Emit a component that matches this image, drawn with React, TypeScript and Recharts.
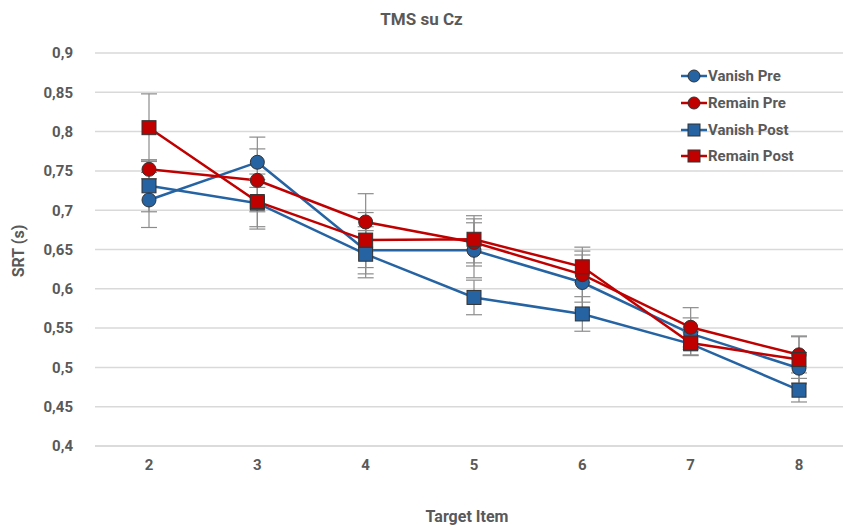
import React from 'react';
import { LineChart, Line, XAxis, YAxis, CartesianGrid, ErrorBar } from 'recharts';

const categories = ['2', '3', '4', '5', '6', '7', '8'];
const vanishPre = [0.713, 0.761, 0.649, 0.649, 0.608, 0.543, 0.499];
const remainPre = [0.752, 0.738, 0.685, 0.659, 0.618, 0.551, 0.516];
const vanishPost = [0.731, 0.709, 0.644, 0.589, 0.568, 0.53, 0.471];
const remainPost = [0.805, 0.711, 0.662, 0.663, 0.628, 0.531, 0.51];
const vanishPreErr = [0.035, 0.032, 0.03, 0.035, 0.035, 0.02, 0.02];
const remainPreErr = [0.012, 0.04, 0.036, 0.03, 0.035, 0.025, 0.023];
const vanishPostErr = [0.033, 0.03, 0.03, 0.022, 0.022, 0.015, 0.015];
const remainPostErr = [0.043, 0.035, 0.035, 0.03, 0.02, 0.015, 0.03];
const yTicks = [0.4, 0.45, 0.5, 0.55, 0.6, 0.65, 0.7, 0.75, 0.8, 0.85, 0.9];

const BLUE = '#2563A3';
const RED = '#C00000';
const TEXT = '#595959';
const FONT = 'Roboto, "Noto Sans", sans-serif';

const data = categories.map((c, i) => ({
  cat: c,
  vp: vanishPre[i],
  rp: remainPre[i],
  vq: vanishPost[i],
  rq: remainPost[i],
  vpE: vanishPreErr[i],
  rpE: remainPreErr[i],
  vqE: vanishPostErr[i],
  rqE: remainPostErr[i],
}));

const series = [
  { key: 'vp', err: 'vpE', name: 'Vanish Pre', color: BLUE, shape: 'circle' },
  { key: 'rp', err: 'rpE', name: 'Remain Pre', color: RED, shape: 'circle' },
  { key: 'vq', err: 'vqE', name: 'Vanish Post', color: BLUE, shape: 'square' },
  { key: 'rq', err: 'rqE', name: 'Remain Post', color: RED, shape: 'square' },
];

const makeDot = (shape: string, color: string) => (p: any) => {
  const { cx, cy, index } = p;
  if (cx == null || cy == null) return <g key={`d${index}`} />;
  if (shape === 'square') {
    return (
      <rect key={`d${index}`} x={cx - 7} y={cy - 7} width={14} height={14} fill={color} stroke="#333" strokeWidth={1} />
    );
  }
  return <circle key={`d${index}`} cx={cx} cy={cy} r={7} fill={color} stroke="#333" strokeWidth={1} />;
};

const fmt = (v: number) => String(Math.round(v * 100) / 100).replace('.', ',');

export default function App() {
  return (
    <div
      style={{
        position: 'absolute',
        left: 0,
        top: 0,
        width: 843,
        height: 528,
        overflow: 'hidden',
        background: '#fff',
        fontFamily: FONT,
      }}
    >
      <LineChart width={853} height={528} data={data} margin={{ top: 53, right: 0, bottom: 0, left: 0 }}>
        <CartesianGrid vertical={false} stroke="#d9d9d9" strokeWidth={1.5} />
        <XAxis
          dataKey="cat"
          height={82}
          padding={{ left: 54, right: 54 }}
          tickLine={false}
          axisLine={{ stroke: '#d9d9d9', strokeWidth: 1.5 }}
          tickSize={6}
          tickMargin={7}
          tick={{ fill: TEXT, fontSize: 15, fontWeight: 700, fontFamily: FONT }}
        />
        <YAxis
          width={95}
          domain={[0.4, 0.9]}
          ticks={yTicks}
          tickFormatter={fmt}
          tickLine={false}
          axisLine={false}
          tickMargin={16}
          tick={{ fill: TEXT, fontSize: 15, fontWeight: 700, fontFamily: FONT }}
        />
        {series.map((s) => (
          <Line
            key={s.key}
            dataKey={s.key}
            name={s.name}
            stroke={s.color}
            strokeWidth={2.5}
            dot={makeDot(s.shape, s.color)}
            activeDot={false}
            isAnimationActive={false}
          >
            <ErrorBar dataKey={s.err} direction="y" width={8} stroke="#8c8c8c" strokeWidth={1.2} />
          </Line>
        ))}
      </LineChart>
      <div style={{ position: 'absolute', left: 0, width: 843, top: 9, textAlign: 'center', color: TEXT, fontSize: 17, fontWeight: 700 }}>
        TMS su Cz
      </div>
      <div style={{ position: 'absolute', left: 387, width: 160, top: 507, textAlign: 'center', color: TEXT, fontSize: 16, fontWeight: 700 }}>
        Target Item
      </div>
      <div
        style={{
          position: 'absolute',
          left: 18,
          top: 251,
          transform: 'translate(-50%, -50%) rotate(-90deg)',
          whiteSpace: 'nowrap',
          color: TEXT,
          fontSize: 16,
          fontWeight: 700,
        }}
      >
        SRT (s)
      </div>
      <div style={{ position: 'absolute', left: 681, top: 63 }}>
        {series.map((s) => (
          <div key={s.key} style={{ display: 'flex', alignItems: 'center', height: 26.7 }}>
            <svg width={26} height={16}>
              <line x1={0} y1={8} x2={26} y2={8} stroke={s.color} strokeWidth={2.5} />
              {s.shape === 'square' ? (
                <rect x={7} y={2} width={12} height={12} fill={s.color} stroke="#333" strokeWidth={1} />
              ) : (
                <circle cx={13} cy={8} r={6} fill={s.color} stroke="#333" strokeWidth={1} />
              )}
            </svg>
            <span style={{ color: TEXT, fontSize: 15, fontWeight: 700, marginLeft: 1 }}>{s.name}</span>
          </div>
        ))}
      </div>
    </div>
  );
}
